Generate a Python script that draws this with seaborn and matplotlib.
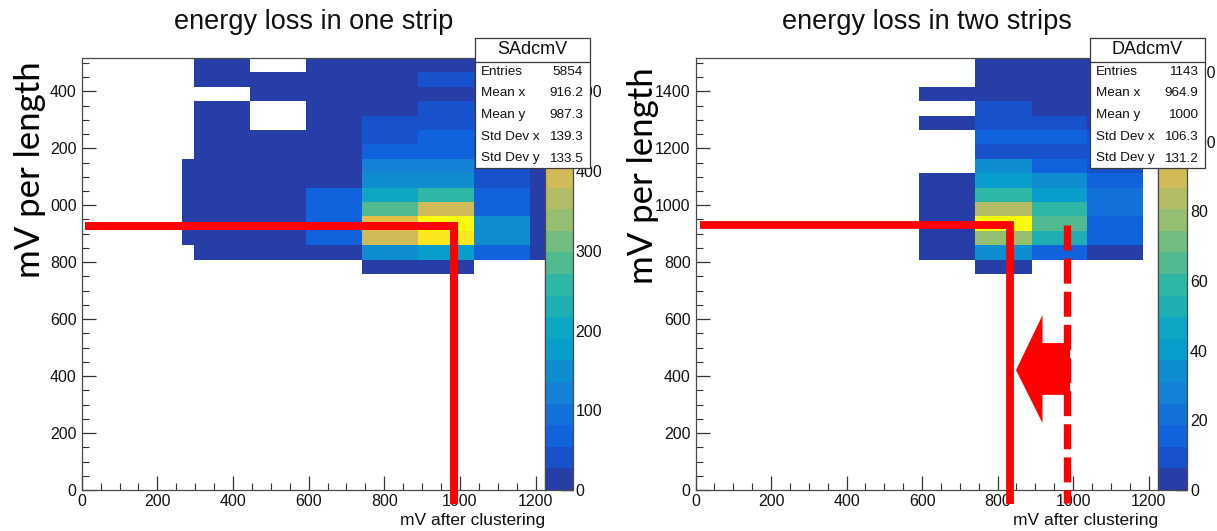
import numpy as np
import pandas as pd
import matplotlib
matplotlib.use("Agg")
import matplotlib.pyplot as plt
import seaborn as sns
from matplotlib.colors import ListedColormap, LinearSegmentedColormap
from matplotlib.patches import Rectangle, Polygon
from matplotlib.ticker import MultipleLocator, FixedLocator

# ---------------- data ----------------
titles = ["energy loss in one strip", "energy loss in two strips"]
x_label = "mV after clustering"
y_label = "mV per length"

x_ticks = [0, 200, 400, 600, 800, 1000, 1200]
x_tick_labels = ["0", "200", "400", "600", "800", "1000", "1200"]
y_ticks = [0, 200, 400, 600, 800, 1000, 1200, 1400]
y_tick_labels_one = ["0", "200", "400", "600", "800", "000", "200", "400"]   # cropped in the original
y_tick_labels_two = ["0", "200", "400", "600", "800", "1000", "1200", "1400"]

x_edges = [0, 148, 265, 297, 445, 593, 741, 890, 1038, 1186, 1225]
y_edges = list(np.linspace(0, 1517, 31))
# bin centres of the occupied rows (top to bottom)
row_centers = [1492, 1441, 1391, 1340, 1289, 1239, 1188, 1138, 1087, 1037, 986, 935, 885, 834, 784]

# ---- one strip (SAdcmV): counts per x-column, rows top -> bottom ----
one_x_centers = [281, 371, 519, 667, 815, 964, 1112, 1205]
one_col_281 = [0, 0, 0, 0, 0, 0, 0, 6, 5, 6, 5, 6, 5, 0, 0]
one_col_371 = [10, 12, 0, 10, 9, 12, 14, 15, 14, 16, 18, 20, 17, 12, 0]
one_col_519 = [0, 10, 12, 0, 0, 14, 16, 18, 20, 22, 22, 24, 22, 15, 0]
one_col_667 = [15, 14, 16, 18, 20, 20, 22, 24, 25, 55, 70, 60, 65, 22, 0]
one_col_815 = [20, 22, 24, 25, 45, 50, 70, 120, 150, 200, 290, 420, 380, 140, 20]
one_col_964 = [18, 40, 22, 45, 50, 55, 75, 120, 160, 255, 380, 535, 505, 170, 22]
one_col_1112 = [15, 18, 20, 25, 30, 35, 40, 45, 50, 60, 80, 150, 145, 70, 0]
one_col_1205 = [5, 6, 6, 7, 8, 8, 9, 9, 10, 12, 14, 15, 14, 10, 0]
one_vmax = 542
one_cbar_ticks = [0, 100, 200, 300, 400, 500]

# ---- two strips (DAdcmV) ----
two_x_centers = [667, 815, 964, 1112]
two_col_667 = [0, 0, 3, 0, 3, 0, 0, 0, 4, 5, 5, 6, 5, 4, 0]
two_col_815 = [3, 4, 5, 11, 10, 16, 11, 33, 40, 60, 86, 123, 78, 32, 4]
two_col_964 = [3, 4, 5, 5, 12, 16, 12, 16, 31, 38, 57, 64, 50, 16, 0]
two_col_1112 = [2, 3, 3, 5, 6, 8, 10, 12, 18, 22, 22, 18, 14, 5, 0]
two_vmax = 124
two_cbar_ticks = [0, 20, 40, 60, 80, 100, 120]

# stats boxes
stat_names = ["Entries", "Mean x", "Mean y", "Std Dev x", "Std Dev y"]
one_stats_title = "SAdcmV"
one_stats = ["5854", "916.2", "987.3", "139.3", "133.5"]
two_stats_title = "DAdcmV"
two_stats = ["1143", "964.9", "1000", "106.3", "131.2"]

# red annotation overlays (data coordinates)
one_red_x = [9, 985, 985]
one_red_y = [928, 928, -50]
two_red_x = [12, 834, 834]
two_red_y = [932, 932, -50]
two_dash_x = [983, 983]
two_dash_y = [930, -45]
arrow_x = [849, 919, 919, 992, 992, 919, 919]
arrow_y = [421, 614, 516, 516, 334, 334, 235]

# ---------------- style ----------------
sns.set_style("ticks")
plt.rcParams["font.family"] = ["Liberation Sans", "DejaVu Sans"]

# ROOT kBird palette, 20 contour levels
stops = [0.0, 0.125, 0.25, 0.375, 0.5, 0.625, 0.75, 0.875, 1.0]
red = [0.2082, 0.0592, 0.0780, 0.0232, 0.1802, 0.5301, 0.8186, 0.9956, 0.9764]
green = [0.1664, 0.3599, 0.5041, 0.6419, 0.7178, 0.7492, 0.7328, 0.7862, 0.9832]
blue = [0.5293, 0.8684, 0.8385, 0.7914, 0.6425, 0.4662, 0.3499, 0.1968, 0.0539]
bird = LinearSegmentedColormap.from_list(
    "bird", [(s, (r, g, b)) for s, r, g, b in zip(stops, red, green, blue)], N=255)
levels = [int((i + 0.99) * 255 / 20) / 254 for i in range(20)]
cmap = ListedColormap([bird(f) for f in levels])

W, H, DPI = 1217, 531, 100
fig = plt.figure(figsize=(W / DPI, H / DPI), dpi=DPI)
fig.patch.set_facecolor("white")


def px_axes(x0, y0, x1, y1):
    return fig.add_axes([x0 / W, 1 - y1 / H, (x1 - x0) / W, (y1 - y0) / H])


def to_long(centers, cols):
    xs, ys, ws = [], [], []
    for xc, col in zip(centers, cols):
        for yc, c in zip(row_centers, col):
            if c > 0:
                xs.append(xc)
                ys.append(yc)
                ws.append(c)
    return pd.DataFrame({"x": xs, "y": ys, "w": ws})


TICK_FS = 11.5
INK = "#111111"
FRAME = "#4a4a4a"

panels = [
    dict(ax=(81.7, 58, 545, 490), cax=(545, 58, 572.7, 490),
         df=to_long(one_x_centers, [one_col_281, one_col_371, one_col_519, one_col_667,
                                    one_col_815, one_col_964, one_col_1112, one_col_1205]),
         vmax=one_vmax, cticks=one_cbar_ticks, ylabels=y_tick_labels_one,
         title=titles[0], ylab_xy=(30, 170), box=(475, 38, 590, 168),
         stitle=one_stats_title, svals=one_stats),
    dict(ax=(695.6, 58, 1158, 490), cax=(1158, 58, 1187.3, 490),
         df=to_long(two_x_centers, [two_col_667, two_col_815, two_col_964, two_col_1112]),
         vmax=two_vmax, cticks=two_cbar_ticks, ylabels=y_tick_labels_two,
         title=titles[1], ylab_xy=(643, 176), box=(1090, 38, 1205, 168),
         stitle=two_stats_title, svals=two_stats),
]

axes = []
for p in panels:
    ax = px_axes(*p["ax"])
    cax = px_axes(*p["cax"])
    sns.histplot(data=p["df"], x="x", y="y", weights="w", bins=[x_edges, y_edges],
                 cmap=cmap, vmin=0, vmax=p["vmax"], cbar=True, cbar_ax=cax,
                 cbar_kws={"ticks": p["cticks"]}, ax=ax, linewidth=0)
    mesh = ax.collections[0]
    mesh.set_clim(0, p["vmax"])
    ax.set_xlim(0, 1225)
    ax.set_ylim(0, 1517)
    ax.set_xlabel("")
    ax.set_ylabel("")
    ax.grid(False)
    ax.set_facecolor("white")
    ax.xaxis.set_major_locator(FixedLocator(x_ticks))
    ax.set_xticklabels(x_tick_labels)
    ax.yaxis.set_major_locator(FixedLocator(y_ticks))
    ax.set_yticklabels(p["ylabels"])
    ax.xaxis.set_minor_locator(MultipleLocator(50))
    ax.yaxis.set_minor_locator(MultipleLocator(50))
    ax.tick_params(which="major", direction="in", length=10, width=0.9, color="#333333",
                   labelsize=TICK_FS, labelcolor=INK, top=False, right=False)
    ax.tick_params(axis="y", which="major", pad=3.6)
    ax.tick_params(axis="x", which="major", pad=3)
    ax.tick_params(which="minor", direction="in", length=5, width=0.8, color="#333333",
                   top=False, right=False)
    for s in ax.spines.values():
        s.set_visible(True)
        s.set_color(FRAME)
        s.set_linewidth(0.9)

    # colorbar styling
    cax.tick_params(axis="y", which="both", direction="in", length=8.5, width=1,
                    color="#222222", labelsize=TICK_FS, labelcolor=INK, pad=2,
                    right=True, left=False)
    cax.yaxis.set_ticks_position("right")
    cax.minorticks_off()
    cb = mesh.colorbar
    if cb is not None:
        cb.outline.set_edgecolor(FRAME)
        cb.outline.set_linewidth(0.9)

    # titles and axis labels
    cx = (p["ax"][0] + p["ax"][2]) / 2 / W
    fig.text(cx, 1 - 29 / H, p["title"], ha="center", va="baseline", fontsize=19.5, color=INK)
    fig.text(p["ax"][2] / W, 1 - 521 / H, x_label, ha="right", va="center",
             fontsize=12.5, color=INK)
    fig.text(p["ylab_xy"][0] / W, 1 - p["ylab_xy"][1] / H, y_label, rotation=90,
             ha="center", va="center", fontsize=25, color="black",
             family=["Lato", "DejaVu Sans"])
    axes.append(ax)

# red overlays
red_c = "#ff0000"
axes[0].plot(one_red_x, one_red_y, color=red_c, lw=5.8, clip_on=False, zorder=10,
             solid_capstyle="butt", solid_joinstyle="miter")
axes[1].plot(two_red_x, two_red_y, color=red_c, lw=5.6, clip_on=False, zorder=10,
             solid_capstyle="butt", solid_joinstyle="miter")
axes[1].plot(two_dash_x, two_dash_y, color=red_c, lw=5.3, clip_on=False, zorder=10,
             linestyle=(0, (3.4, 1.1)), dash_capstyle="butt")
axes[1].add_patch(Polygon(list(zip(arrow_x, arrow_y)), closed=True, facecolor=red_c,
                          edgecolor="none", zorder=11, clip_on=False))

# white strip where the left screenshot was cropped
fig.patches.append(Rectangle((602 / W, 0), 20 / W, 1, transform=fig.transFigure,
                             facecolor="white", edgecolor="none", zorder=1))

# stats boxes
for p in panels:
    x0, y0, x1, y1 = p["box"]
    fig.patches.append(Rectangle((x0 / W, 1 - y1 / H), (x1 - x0) / W, (y1 - y0) / H,
                                 transform=fig.transFigure, facecolor="white",
                                 edgecolor="#3a3a3a", linewidth=0.9, zorder=2))
    fig.add_artist(plt.Line2D([x0 / W, x1 / W], [1 - 61.7 / H, 1 - 61.7 / H],
                              transform=fig.transFigure, color="#3a3a3a", lw=0.9, zorder=3))
    fig.text((x0 + x1) / 2 / W, 1 - 50 / H, p["stitle"], ha="center", va="center",
             fontsize=13, color=INK, zorder=4)
    for i, (nm, val) in enumerate(zip(stat_names, p["svals"])):
        yy = 1 - (71.7 + i * 21.7) / H
        fig.text((x0 + 6) / W, yy, nm, ha="left", va="center", fontsize=9.7, color=INK, zorder=4)
        fig.text((x1 - 7) / W, yy, val, ha="right", va="center", fontsize=9.7, color=INK, zorder=4)

fig.savefig("out.png", dpi=DPI, facecolor="white")
